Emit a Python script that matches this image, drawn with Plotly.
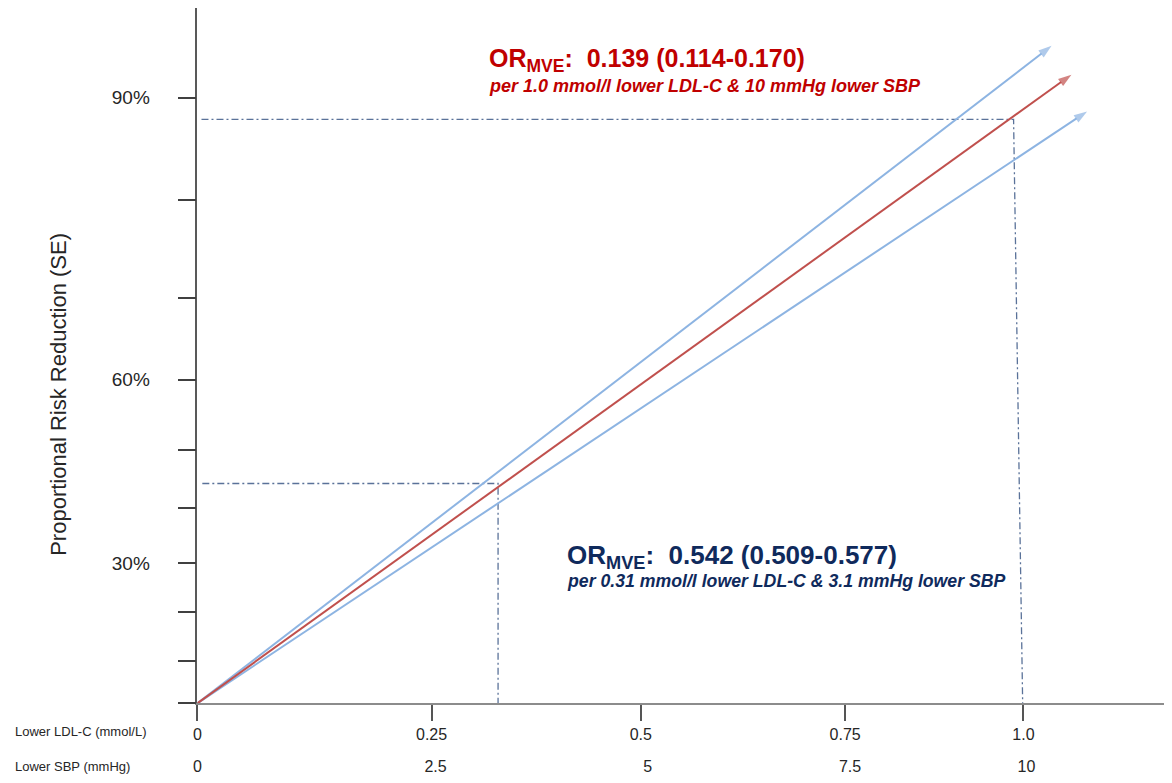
import plotly.graph_objects as go

# ---------------- data (axis units) ----------------
# x axis: LDL-C reduction scale (drawing units, 1.0 = 1.0 mmol/L)
x_tick_pos = [0, 0.2835, 0.5368, 0.7841, 1.0]
x_tick_text = ["0", "0.25", "0.5", "0.75", "1.0"]
sbp_tick_pos = [0, 0.2883, 0.5452, 0.7901, 1.0036]
sbp_tick_text = ["0", "2.5", "5", "7.5", "10"]

# y axis: proportional risk reduction (drawing units)
y_tick_pos = [0, 6.13, 13.12, 20.11, 27.96, 36.38, 46.43, 58.20, 72.18, 86.88]
y_tick_text = ["", "", "", "30%", "", "", "60%", "", "", "90%"]

# arrows (start, tip)
red_x = [0, 1.058]
red_y = [0, 90.16]
upper_x = [0, 1.034]
upper_y = [0, 94.29]
lower_x = [0, 1.077]
lower_y = [0, 84.88]

# dash-dot guide lines
guide1_x = [0.005, 0.988, 0.999]
guide1_y = [83.74, 83.74, 0]
guide2_x = [0.006, 0.364, 0.364]
guide2_y = [31.53, 31.53, 0]

# ---------------- layout helpers ----------------
W, H = 1156, 767          # page body has an 8px margin
OFF = 8


def px(xp):
    return (xp - OFF) / W


def py(yp):
    return (H - (yp - OFF)) / H


X0_PX, X1_PX = 194, 829     # origin pixel and pixels per unit
Y0_PX, Y_UNIT = 707, 7.01
X_RANGE = [0, (OFF + W - X0_PX) / X1_PX]
Y_RANGE = [0, (Y0_PX - OFF) / Y_UNIT]

FONT = "Liberation Sans, Arial, sans-serif"
BLUE = "#8DB4E2"
RED = "#C0504D"
GUIDE = "#5A7299"

fig = go.Figure()

for gx, gy in [(guide1_x, guide1_y), (guide2_x, guide2_y)]:
    fig.add_trace(go.Scatter(x=gx, y=gy, mode="lines",
                             line=dict(color=GUIDE, width=1.3, dash="7px,3px,2px,3px"),
                             hoverinfo="skip", showlegend=False))

for ax_, ay_, col in [(upper_x, upper_y, BLUE), (lower_x, lower_y, BLUE), (red_x, red_y, RED)]:
    fig.add_trace(go.Scatter(
        x=ax_, y=ay_, mode="lines+markers",
        line=dict(color=col, width=2),
        marker=dict(symbol=["circle", "arrow"], size=[0, 14], color=col,
                    angleref="previous", line=dict(width=0)),
        hoverinfo="skip", showlegend=False))

# second label row (SBP) on an overlaid free x axis
fig.add_trace(go.Scatter(x=[0], y=[0], xaxis="x2", mode="markers",
                         marker=dict(size=0, opacity=0), hoverinfo="skip", showlegend=False))

fig.update_layout(
    width=W, height=H,
    margin=dict(l=0, r=0, t=0, b=0),
    paper_bgcolor="white", plot_bgcolor="white",
    font=dict(family=FONT, color="#262626"),
    xaxis=dict(domain=[px(X0_PX), 1], range=X_RANGE, showgrid=False, zeroline=False,
               showline=True, linecolor="#8C8C8C", linewidth=1.5,
               tickmode="array", tickvals=x_tick_pos, ticktext=x_tick_text,
               ticks="outside", ticklen=16, tickwidth=1.5, tickcolor="#555555",
               tickfont=dict(size=16, color="#262626", family=FONT)),
    xaxis2=dict(overlaying="x", anchor="free", position=py(759), range=X_RANGE,
                showgrid=False, zeroline=False, showline=False,
                tickmode="array", tickvals=sbp_tick_pos, ticktext=sbp_tick_text,
                ticks="", tickfont=dict(size=16, color="#262626", family=FONT)),
    yaxis=dict(domain=[py(Y0_PX), 1], range=Y_RANGE, showgrid=False, zeroline=False,
               showline=True, linecolor="#595959", linewidth=1.5,
               tickmode="array", tickvals=y_tick_pos, ticktext=y_tick_text,
               ticks="outside", ticklen=18, tickwidth=1.5, tickcolor="#404040",
               ticklabelstandoff=24,
               tickfont=dict(size=19, color="#262626", family=FONT)),
)

NB = "\u00a0"
annots = [
    dict(text="<b>OR<sub>MVE</sub>:" + NB + NB + "0.139 (0.114-0.170)</b>",
         x=px(485), y=py(60), font=dict(size=25, color="#C00000")),
    dict(text="<b><i>per 1.0 mmol/l lower LDL-C &amp; 10 mmHg lower SBP</i></b>",
         x=px(485), y=py(86), font=dict(size=18, color="#C00000")),
    dict(text="<b>OR<sub>MVE</sub>:" + NB + NB + "0.542 (0.509-0.577)</b>",
         x=px(563), y=py(559), font=dict(size=26, color="#0F2A5C")),
    dict(text="<b><i>per 0.31 mmol/l lower LDL-C &amp; 3.1 mmHg lower SBP</i></b>",
         x=px(563), y=py(584), font=dict(size=17.7, color="#0F2A5C")),
    dict(text="Lower LDL-C (mmol/L)", x=px(9), y=py(735),
         font=dict(size=13, color="#262626")),
    dict(text="Lower SBP (mmHg)", x=px(9), y=py(770),
         font=dict(size=13, color="#262626")),
]
for a in annots:
    fig.add_annotation(xref="paper", yref="paper", xanchor="left", yanchor="middle",
                       showarrow=False, font_family=FONT, **a)

fig.add_annotation(text="Proportional Risk Reduction (SE)", xref="paper", yref="paper",
                   x=px(55), y=py(396), textangle=-90, showarrow=False,
                   xanchor="center", yanchor="middle",
                   font=dict(size=22, color="#262626", family=FONT))

fig.write_html("out.html")
